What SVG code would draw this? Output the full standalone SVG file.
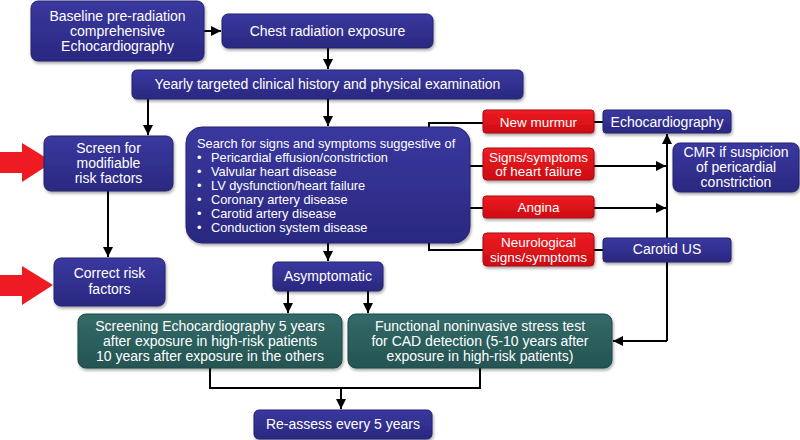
<svg xmlns="http://www.w3.org/2000/svg" width="800" height="440" viewBox="0 0 800 440">
<defs>
<linearGradient id="gn" x1="0" y1="0" x2="0" y2="1"><stop offset="0" stop-color="#3a38a0"/><stop offset="1" stop-color="#2a2880"/></linearGradient>
<linearGradient id="gr" x1="0" y1="0" x2="0" y2="1"><stop offset="0" stop-color="#ee1c22"/><stop offset="1" stop-color="#cc0c12"/></linearGradient>
<linearGradient id="gt" x1="0" y1="0" x2="0" y2="1"><stop offset="0" stop-color="#336a68"/><stop offset="1" stop-color="#245452"/></linearGradient>
<marker id="ah" viewBox="0 0 10 10" refX="10" refY="5" markerWidth="5" markerHeight="5" orient="auto"><path d="M0,0 L10,5 L0,10 z" fill="#000"/></marker>
<filter id="sh" x="-10%" y="-10%" width="120%" height="130%"><feDropShadow dx="1" dy="2" stdDeviation="1.5" flood-color="#000" flood-opacity="0.35"/></filter>
</defs>
<style>
.n{fill:url(#gn);stroke:#24226e;stroke-width:1;filter:url(#sh)}
.r{fill:url(#gr);stroke:#a80a10;stroke-width:1;filter:url(#sh)}
.t{fill:url(#gt);stroke:#1d4644;stroke-width:1;filter:url(#sh)}
text{font-family:"Liberation Sans",Arial,sans-serif;font-size:14px;fill:#fff;text-anchor:middle}
.l{text-anchor:start;font-size:12.8px}
.rs{font-size:13.5px}
.c{fill:none;stroke:#000;stroke-width:2}
.a{marker-end:url(#ah)}
</style>
<g id="connectors">
<path class="c a" d="M204,31 H221"/>
<path class="c a" d="M328,48 V69"/>
<path class="c a" d="M148,99 V135"/>
<path class="c a" d="M328,99 V126"/>
<path class="c a" d="M108,191 V257"/>
<path class="c a" d="M328,243 V261"/>
<path class="c a" d="M288,291 V313"/>
<path class="c a" d="M368,291 V313"/>
<path class="c" d="M210,368 V388 H480 V368"/>
<path class="c a" d="M341,388 V409"/>
<path class="c" d="M429,127 V123 H483"/>
<path class="c" d="M429,243 V250 H483"/>
<path class="c" d="M470,166 H483"/>
<path class="c" d="M470,208 H483"/>
<path class="c" d="M594,122 H603"/>
<path class="c" d="M594,250 H603"/>
<path class="c a" d="M594,166 H666"/>
<path class="c a" d="M594,208 H666"/>
<path class="c a" d="M667,341 V134"/>
<path class="c a" d="M667,341 H613"/>
</g>
<g id="arrow1"><path d="M0,152 H22 V143 L53,162 L22,182 V173 H0 z" fill="#ee1c22"/></g>
<g id="arrow2"><path d="M0,275 H22 V266 L53,285 L22,305 V296 H0 z" fill="#ee1c22"/></g>
<g id="baseline"><rect class="n" x="31" y="1" width="173" height="60" rx="7"/>
<text x="117.5" y="21">Baseline pre-radiation</text><text x="117.5" y="36">comprehensive</text><text x="117.5" y="51">Echocardiography</text></g>
<g id="chest"><rect class="n" x="222" y="14" width="211" height="34" rx="6"/><text x="327.5" y="36">Chest radiation exposure</text></g>
<g id="yearly"><rect class="n" x="132" y="70" width="391" height="29" rx="5"/><text x="327.5" y="89">Yearly targeted clinical history and physical examination</text></g>
<g id="screen"><rect class="n" x="44" y="136" width="129" height="55" rx="7"/>
<text x="108.5" y="153">Screen for</text><text x="108.5" y="168">modifiable</text><text x="108.5" y="183">risk factors</text></g>
<g id="search"><rect class="n" x="186" y="127" width="284" height="116" rx="16"/>
<text class="l" x="197" y="148">Search for signs and symptoms suggestive of</text>
<text class="l" x="197" y="162">•</text><text class="l" x="211" y="162">Pericardial effusion/constriction</text>
<text class="l" x="197" y="176">•</text><text class="l" x="211" y="176">Valvular heart disease</text>
<text class="l" x="197" y="190">•</text><text class="l" x="211" y="190">LV dysfunction/heart failure</text>
<text class="l" x="197" y="204">•</text><text class="l" x="211" y="204">Coronary artery disease</text>
<text class="l" x="197" y="218">•</text><text class="l" x="211" y="218">Carotid artery disease</text>
<text class="l" x="197" y="232">•</text><text class="l" x="211" y="232">Conduction system disease</text></g>
<g id="correct"><rect class="n" x="54" y="258" width="111" height="48" rx="7"/>
<text x="109.5" y="278">Correct risk</text><text x="109.5" y="294">factors</text></g>
<g id="asymptomatic"><rect class="n" x="273" y="262" width="110" height="29" rx="5"/><text x="328" y="281">Asymptomatic</text></g>
<g id="screening"><rect class="t" x="78" y="314" width="264" height="54" rx="8"/>
<text x="210" y="331">Screening Echocardiography 5 years</text><text x="210" y="346">after exposure in high-risk patients</text><text x="210" y="361">10 years after exposure in the others</text></g>
<g id="functional"><rect class="t" x="348" y="314" width="264" height="54" rx="8"/>
<text x="480" y="331">Functional noninvasive stress test</text><text x="480" y="346">for CAD detection (5-10 years after</text><text x="480" y="361">exposure in high-risk patients)</text></g>
<g id="reassess"><rect class="n" x="254" y="410" width="178" height="29" rx="5"/><text x="343" y="429">Re-assess every 5 years</text></g>
<g id="murmur"><rect class="r" x="483" y="110" width="111" height="23" rx="3"/><text class="rs" x="538.5" y="127">New murmur</text></g>
<g id="echo"><rect class="n" x="603" y="110" width="128" height="23" rx="3"/><text x="667" y="127">Echocardiography</text></g>
<g id="hf"><rect class="r" x="483" y="148" width="111" height="32" rx="4"/><text class="rs" x="538.5" y="162">Signs/symptoms</text><text class="rs" x="538.5" y="176">of heart failure</text></g>
<g id="angina"><rect class="r" x="483" y="196" width="111" height="22" rx="3"/><text class="rs" x="538.5" y="212">Angina</text></g>
<g id="neuro"><rect class="r" x="483" y="233" width="111" height="33" rx="4"/><text class="rs" x="538.5" y="247">Neurological</text><text class="rs" x="538.5" y="262">signs/symptoms</text></g>
<g id="carotid"><rect class="n" x="603" y="238" width="128" height="24" rx="3"/><text x="667" y="254">Carotid US</text></g>
<g id="cmr"><rect class="n" x="673" y="143" width="126" height="49" rx="7"/>
<text x="736" y="157">CMR if suspicion</text><text x="736" y="172">of pericardial</text><text x="736" y="187">constriction</text></g>
</svg>
